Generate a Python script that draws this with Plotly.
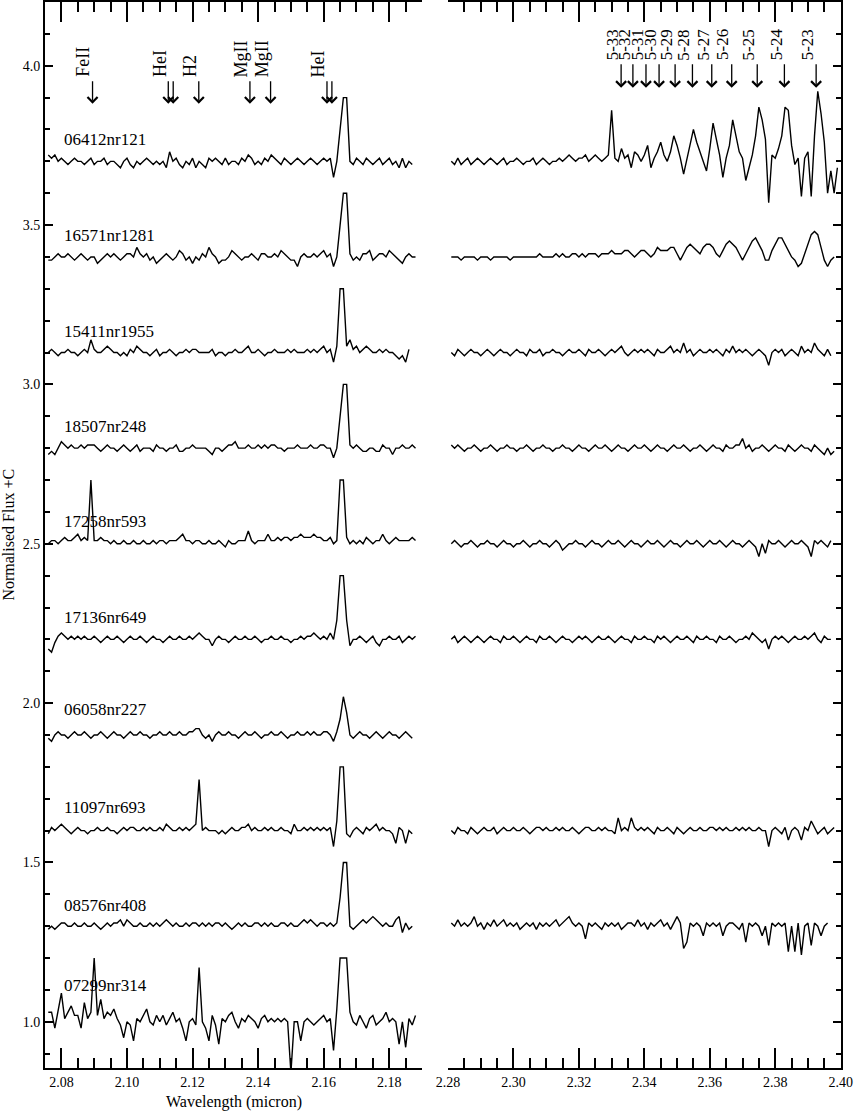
import plotly.graph_objects as go

# ---------------- data ----------------
# wavelength sampling (micron) of the digitised spectra
left_start = 2.076
right_start = 2.281
wl_step = 0.001

spectrum_names = ["06412nr121", "16571nr1281", "15411nr1955", "18507nr248", "17258nr593",
                  "17136nr649", "06058nr227", "11097nr693", "08576nr408", "07299nr314"]
offsets_C = [2.7, 2.4, 2.1, 1.8, 1.5, 1.2, 0.9, 0.6, 0.3, 0.0]
label_dy = [0.068, 0.066, 0.067, 0.069, 0.071, 0.068, 0.08, 0.072, 0.066, 0.115]

# flux deviations from 1 (in %), K band blue part
s06412_left = [2, 1, 2, 0, 1, 0, -1, 0, 1, 0, 0, -1, 0, 1, -1, 0, 0, 1, -1, 0,
               0, -1, -2, 0, 1, -1, -2, 0, -1, 0, 1, 0, -1, 0, -1, 0, -2, 3, 0, 1,
               -1, -2, 0, -1, 1, -2, 0, -1, -2, 1, 0, 1, 0, -1, 1, -1, 0, 0, -1, 1,
               0, 2, 1, -1, 0, -1, 1, 0, 2, 1, 0, -1, 1, 0, -1, 0, 1, 0, -1, 0,
               1, 0, -1, 0, 1, 0, 1, -5, 0, 10, 20, 20, 0, -1, 1, 0, -1, 1, 0, -1,
               0, 1, -1, 0, 1, -1, 0, -2, 1, -2, 0, -1]
s16571_left = [-1, -1, 0, 1, 0, 0, 1, 0, -1, 0, 1, 0, -1, 0, 0, -2, -1, 0, 1, 0,
               1, 0, -1, 0, 1, 1, 0, 3, 1, 0, 1, -1, 0, -2, -1, 0, 1, 0, -1, 0,
               2, 1, -1, 0, -2, 0, -1, 1, 0, 3, 1, 0, -2, -1, -1, 0, 2, 1, 0, -1,
               0, 0, 1, 0, -1, 1, 1, 0, 0, 1, 0, 2, 1, 0, -1, -1, -3, 0, 1, 0,
               0, 1, 0, 1, 2, 0, 1, -3, 0, 10, 20, 20, 1, -1, 0, -1, 1, 1, 2, -1,
               0, 1, 1, 0, 2, 1, 0, -1, -2, 0, 1, 0, 0]
s15411_left = [0, 1, 0, -1, 0, 0, 1, 0, 0, -1, 0, 1, 0, 4, 1, 0, 0, 1, 2, 1,
               0, 0, -1, 0, -1, 1, 0, 2, 1, 0, 0, -1, 0, 1, -1, 0, 0, 1, 0, -1,
               0, 0, 1, 0, 1, 1, 0, 0, 0, 0, 1, -1, 0, 0, -1, 0, 0, 1, 0, 0,
               1, 2, 0, 0, 1, 0, -1, 0, 0, 1, 0, 0, 0, 1, 0, 1, 0, 0, 0, 1,
               0, 1, 0, 1, 2, 0, 1, -3, 2, 20, 20, 2, 4, 1, 2, 0, 1, 2, 1, 0,
               0, 1, 0, 1, 0, 0, -1, -2, -1, -3, 1]
s18507_left = [-2, -1, -2, 0, 2, 1, 0, 1, 0, 0, 1, 0, 1, 1, 1, 0, -1, 0, 1, 0,
               0, -1, 0, 1, 0, -1, 0, 1, -1, 0, 0, 0, -1, 1, 0, 0, -1, 0, 0, 1,
               -1, -1, 0, 0, 1, 0, 0, 0, 0, -1, -2, 0, 0, -1, 0, 1, 1, 2, 0, 0,
               0, 1, 0, 0, 1, 0, 1, 0, 1, 1, 0, 0, -1, 0, 0, 0, 1, 0, 0, 0,
               1, 0, 0, 1, 1, 0, 0, -3, 0, 10, 20, 20, 1, 0, 1, 0, -1, -1, 0, 0,
               -1, -1, 1, 0, 0, -2, 0, 0, 1, 0, 0, 1, 0]
s17258_left = [0, 1, 1, 0, 1, 2, 1, 1, 2, 3, 1, 2, 1, 20, 1, 1, 2, 1, 1, 0,
               1, 0, 0, 1, 0, 0, 1, 0, 0, 1, 0, 0, 1, 0, 1, 1, 0, 1, 1, 1,
               2, 3, 1, 1, 0, 1, 1, 0, 0, 1, 0, 0, 1, 0, -1, 1, 0, 0, 1, 1,
               1, 4, 1, 0, 1, 1, 1, 3, 1, 1, 2, 1, 2, 2, 1, 2, 2, 3, 2, 2,
               2, 3, 2, 2, 1, 1, 2, 0, 1, 20, 20, 2, 0, 1, 0, 1, 0, 2, 1, 0,
               1, 1, 3, 1, 0, 1, 2, 1, 1, 1, 1, 2, 1]
s17136_left = [-3, -4, -1, 1, 2, 1, 0, 1, 0, 1, 0, 1, 0, 0, 1, 0, -1, 0, 1, 0,
               0, 1, 0, -1, 0, 1, 0, 0, 1, 0, -1, 0, 1, 0, 0, -1, 0, 1, 0, 0,
               1, 0, 0, 1, 0, 1, 2, 1, 0, 0, -2, 0, 1, 0, 0, -1, 0, 1, 0, 0,
               1, 0, 0, 1, 0, -1, 0, 0, 1, 0, 0, 1, 0, 0, -1, 0, 0, 1, 0, 1,
               1, 2, 1, 0, 1, 0, 2, 0, 6, 20, 20, 6, -2, 0, 0, 1, 0, -1, 0, 1,
               -1, -2, 0, 0, 1, 0, 0, 1, -1, 0, 1, 0, 1]
s06058_left = [-1, -2, 0, 1, 0, 0, -1, 0, 1, 0, 0, 1, 0, -1, 0, 0, 1, 0, -1, 0,
               1, 0, 0, -1, 0, 1, 0, 0, 1, 0, 0, -1, 0, 0, 1, 0, 0, 1, 0, 0,
               1, 0, 0, 1, 1, 2, 2, 0, -1, 0, -2, 0, 1, 0, 0, 1, 0, 0, -1, 0,
               1, 0, 0, 1, 0, -1, 0, 0, 1, 0, 0, 1, 0, -1, 0, 0, 1, 0, 0, 1,
               0, 1, 0, 0, 1, 1, 0, -2, 1, 5, 12, 7, 0, -1, 0, 1, 0, 0, -1, 0,
               1, 0, -1, 0, 1, 0, 0, -1, 0, 1, 0, -1]
s11097_left = [-1, 1, 0, 1, 2, 1, 0, -1, 0, 1, 0, 0, -1, 0, 0, 1, 0, 0, 1, 0,
               0, -1, 0, 1, 0, 1, 1, 0, 0, 1, 0, 1, 0, 0, 1, 0, 2, 1, 0, 0,
               1, 0, 1, 0, 1, 2, 16, 0, 1, 0, 0, 0, -1, 0, -1, 0, 1, 0, 0, 1,
               1, 2, 0, 1, 0, 0, 1, 0, 1, 0, 0, 1, 0, 0, -1, 2, 0, 0, 1, 0,
               1, 0, 1, 0, 1, 0, 1, -5, 3, 20, 20, -1, -2, 0, 1, 0, -1, 1, 0, 1,
               2, 0, 1, 0, 0, -1, -4, 1, 0, -4, 0, -1]
s08576_left = [-1, 0, -1, 0, 1, 1, 0, 0, 1, 0, 0, 1, 0, 0, 1, 0, -1, 0, 1, 0,
               1, 1, 2, 0, 2, 1, 0, 0, 1, 0, 0, 1, 0, 1, 0, 1, 2, 1, 0, 1,
               0, 0, 1, 0, 1, 1, 0, 1, 0, 1, 0, 1, 1, 0, 1, 0, -1, 0, 1, 0,
               1, 0, 0, 1, 1, 0, 1, 0, 1, 0, 0, 1, 1, 0, 1, 0, 0, 1, 2, 1,
               2, 1, 0, 1, 1, 0, 1, 0, 1, 9, 20, 20, 0, -1, 0, 1, 2, 1, 2, 3,
               2, 1, 0, 1, 0, 0, 2, 3, -2, 1, -1, 0]
s07299_left = [3, 3, -2, 4, 9, 1, 3, 5, 2, 2, -2, 6, 1, 3, 20, 2, 7, 1, 3, 2,
               4, 1, -1, -5, 0, -1, -6, 1, 0, 2, 4, 0, -1, 2, 0, 2, -1, 1, 3, 0,
               1, -2, -6, 0, 1, -1, 17, 0, -2, -6, 2, -1, -7, 1, 0, 2, 3, 0, -2, 1,
               0, 2, 1, 0, -2, 1, 2, 0, 1, 0, 1, 0, 1, 0, -16, 0, 0, -6, 0, 1,
               0, -1, 0, 1, 2, 0, 1, -9, 4, 20, 20, 20, 3, 0, -1, 2, 0, -2, 1, 2,
               -1, 0, 1, 3, 0, 1, 0, -7, 0, -8, 1, -1, 2]

# flux deviations from 1 (in %), K band red part (CO / Pfund region)
s06412_right = [0, -1, 1, -1, 0, 1, -1, 0, 1, 0, -1, 0, 1, 0, -1, 0, 1, -1, 0, 0,
                1, 0, -1, 0, 0, 1, -1, 0, 1, 0, -1, 0, 0, 1, 0, 1, 2, 1, 0, 1,
                1, 2, 0, 1, 2, 1, 0, 1, 2, 16, 1, 0, 4, 1, 2, -2, 3, 2, 0, 2,
                5, -2, 1, 3, 6, 2, 0, 3, 8, 5, 1, -4, 1, 5, 10, 6, 3, 0, -3, 4,
                12, 7, 2, -5, 1, 5, 13, 8, 3, 1, -6, -2, 2, 8, 17, 13, 7, -13, 2, 1,
                4, 8, 17, 16, 5, -1, 1, -11, 1, 3, -11, 8, 22, 15, 6, -10, -3, -10, -2]
s16571_right = [0, 0, 0, -1, 0, 0, 0, 0, -1, 0, 0, 0, -1, 0, 0, 0, 0, 0, -1, 0,
                0, 0, 0, 0, 0, 0, 0, 1, 0, 0, 0, 0, 1, 0, 1, 0, 0, 1, 1, 0,
                1, 0, 1, 1, 1, 0, 1, 1, 1, 2, 1, 1, 1, 2, 2, 1, 0, 1, 2, 2,
                1, 0, 1, 3, 2, 2, 2, 3, 3, 1, -1, 1, 3, 4, 3, 2, 1, 3, 4, 4,
                3, 1, 0, 2, 4, 5, 4, 3, 1, -1, 1, 3, 5, 6, 4, 2, -1, -1, 2, 4,
                6, 6, 4, 2, 0, -1, -3, -2, 1, 4, 7, 8, 7, 3, -1, -3, -1, 0]
s15411_right = [0, -1, 1, 0, -1, 0, 1, 0, 0, -1, 0, 1, 0, -1, 0, 1, 0, 0, -1, 0,
                1, 0, 0, -1, 1, 0, 0, 1, -1, 0, 0, 1, 0, 0, -1, 0, 1, 0, 0, 1,
                0, -1, 1, 0, 0, 1, 0, -1, 0, 1, 0, 1, 2, 0, -1, 0, 1, 0, 1, 0,
                1, 0, -1, 1, 0, 0, 1, 2, 0, 1, 0, 3, 0, 1, -1, 0, 1, 0, 0, 1,
                0, 1, 0, -1, 1, 0, 2, 0, 1, 0, 1, 0, -1, 0, 1, 0, -1, -4, 0, 1,
                0, 1, -1, 0, 1, 0, -1, 2, 0, 1, 0, 3, 1, 0, -1, 1, -1]
s18507_right = [1, 0, 1, 0, -1, 0, 0, 1, 0, -1, 0, 0, 1, 0, -1, 0, 0, 1, 0, 0,
                -1, 0, 0, 1, 0, -1, 0, 0, 1, 0, 0, -1, 0, 0, 1, 0, 0, -1, 0, 1,
                0, 0, -1, 0, 1, 0, 0, 1, 0, -1, 0, 1, 0, 0, -1, 0, 1, 0, 0, 1,
                0, -1, 0, 1, 0, 0, -1, 0, 1, 0, 0, 1, 0, -1, 0, 0, 1, 0, -1, 0,
                1, 0, 0, -1, 1, 0, 0, 1, 1, 3, 0, 1, -1, 0, 0, 1, 0, -1, 0, 1,
                0, 0, -1, 1, 0, -1, 0, 1, 0, 0, -1, 1, 0, -1, -2, 0, -2, -1]
s17258_right = [0, 1, 0, -1, 0, 0, 1, 0, -1, 0, 0, 1, 0, 0, -1, 0, 1, 0, 0, -1,
                0, 0, 1, 0, -1, 0, 0, 1, 0, 0, -1, 0, 1, 0, -2, -1, 0, 0, 1, 0,
                0, -1, 0, 1, 0, 0, -1, 0, 1, 0, 0, 1, 0, -1, 0, 1, 0, 0, -1, 0,
                1, 0, 0, 1, 0, -1, 0, 1, 0, 0, -1, 0, 1, 0, 0, 1, 0, -1, 0, 1,
                0, 0, 1, 0, -1, 0, 1, 0, 0, -1, 0, 1, 0, -1, -4, 0, -3, 1, 0, 0,
                1, 0, -1, 0, 1, 0, 0, 1, 0, -1, -4, 1, 0, 1, 0, -1, 1]
s17136_right = [0, 1, -1, 0, 1, 0, -1, 0, 1, 0, -1, 0, 1, 0, 0, -1, 1, 0, 0, 1,
                0, -1, 0, 1, 0, 0, -1, 1, 0, 0, 1, 0, -1, 0, 1, 0, 0, -1, 0, 1,
                0, 1, 0, -1, 0, 1, 0, 0, 1, 0, -1, 0, 1, 0, 0, -1, 1, 0, 0, 1,
                0, 0, -1, 1, 0, 1, 0, -1, 0, 1, 0, 0, 1, 0, -1, 1, 0, 0, 1, 0,
                0, -1, 1, 0, 0, 1, 0, -1, 0, 0, 1, 0, 2, 1, 0, -1, 0, -3, 0, 1,
                0, 1, 0, -1, 0, 1, 0, 0, 1, 0, 1, 2, 0, -1, 1, 0, 0]
s11097_right = [0, -1, 1, 0, 0, -1, 1, 0, -1, 0, 1, 0, 0, 1, -1, 0, 1, 0, 0, 1,
                0, 0, 1, 0, -1, 0, 1, 1, 0, 1, 0, 0, 1, 0, 1, 0, 0, 1, 0, -1,
                0, 1, 1, 0, 0, 1, 0, 1, 0, 0, -1, 4, 0, 1, 0, 4, 1, 0, 1, 0,
                1, 0, -1, 1, 0, 0, 1, 0, -1, 1, 0, -1, 0, 1, 0, 0, 1, 0, 0, 1,
                1, 0, 1, 0, 1, 0, 0, 1, 0, 1, 0, 1, 0, 0, 1, 0, 0, -5, 0, 1,
                0, -1, 1, -3, 0, 1, 0, -3, 1, 0, 3, 1, -1, 0, 1, -1, 0, 1]
s08576_right = [1, 0, 2, 0, 1, 0, 1, 3, 0, 1, -1, 1, 0, 2, 0, 1, 2, 0, 1, 0,
                1, -1, 0, 1, 0, 1, -1, 1, 0, 1, 0, 1, 2, 0, 1, 2, 3, 1, 0, 1,
                0, -4, 1, 0, 1, 0, -1, 1, 0, 1, 0, 1, -1, 0, 1, 1, 0, 2, 0, 1,
                -1, 1, 0, 1, 2, 0, 1, -1, 1, 3, 1, -7, -5, 1, 0, 1, 0, -3, 1, 0,
                1, 0, 1, -3, 0, 1, 1, 0, -1, 1, -5, 1, 0, 1, 0, -3, 0, -6, 1, 0,
                1, 0, 1, -8, 0, -8, 1, -9, 0, 1, -6, 1, 0, -3, 0, 1]

left_spectra = [s06412_left, s16571_left, s15411_left, s18507_left, s17258_left,
                s17136_left, s06058_left, s11097_left, s08576_left, s07299_left]
right_spectra = [s06412_right, s16571_right, s15411_right, s18507_right, s17258_right,
                 s17136_right, None, s11097_right, s08576_right, None]

# line identifications (micron)
left_arrow_wl = [2.0895, 2.1126, 2.1141, 2.1219, 2.1375, 2.1438, 2.1610, 2.1625]
left_label_wl = [2.0895, 2.1126, 2.1219, 2.1375, 2.1438, 2.1610]
left_label_txt = ["FeII", "HeI", "H2", "MgII", "MgII", "HeI"]
right_arrow_wl = [2.3329, 2.3365, 2.3405, 2.3445, 2.3494, 2.3547, 2.3606, 2.3667,
                  2.3745, 2.3828, 2.3925]
right_label_txt = ["5-33", "5-32", "5-31", "5-30", "5-29", "5-28", "5-27", "5-26",
                   "5-25", "5-24", "5-23"]

# ---------------- figure ----------------
FONT = "Liberation Serif, Times New Roman, DejaVu Serif, serif"
fig = go.Figure()


def grid(start, n):
    return [round(start + wl_step * i, 4) for i in range(n)]


for name, C, lv, rv in zip(spectrum_names, offsets_C, left_spectra, right_spectra):
    fig.add_trace(go.Scatter(x=grid(left_start, len(lv)), y=[1 + C + v / 100 for v in lv],
                             mode="lines", line=dict(color="black", width=1.4),
                             xaxis="x", yaxis="y", showlegend=False, name=name))
    if rv is not None:
        fig.add_trace(go.Scatter(x=grid(right_start, len(rv)), y=[1 + C + v / 100 for v in rv],
                                 mode="lines", line=dict(color="black", width=1.4),
                                 xaxis="x2", yaxis="y2", showlegend=False, name=name))

ann = []
for name, C, dy in zip(spectrum_names, offsets_C, label_dy):
    ann.append(dict(x=2.0803, y=1 + C + dy, xref="x", yref="y", text=name, showarrow=False,
                    xanchor="left", yanchor="middle", font=dict(family=FONT, size=17, color="black")))

for w in left_arrow_wl:
    ann.append(dict(x=w, y=3.881, ax=w, ay=3.956, xref="x", yref="y", axref="x", ayref="y",
                    text="", showarrow=True, arrowhead=4, arrowsize=1.5, arrowwidth=1.3,
                    arrowcolor="black"))
for w, t in zip(left_label_wl, left_label_txt):
    ann.append(dict(x=w, y=3.958, xref="x", yref="y", text=t, textangle=-90, showarrow=False,
                    xanchor="right", yanchor="bottom", xshift=3,
                    font=dict(family=FONT, size=18, color="black")))
for w, t in zip(right_arrow_wl, right_label_txt):
    ann.append(dict(x=w, y=3.931, ax=w, ay=4.009, xref="x2", yref="y2", axref="x2", ayref="y2",
                    text="", showarrow=True, arrowhead=4, arrowsize=1.5, arrowwidth=1.3,
                    arrowcolor="black"))
    ann.append(dict(x=w, y=4.011, xref="x2", yref="y2", text=t, textangle=-90, showarrow=False,
                    xanchor="right", yanchor="bottom", xshift=3,
                    font=dict(family=FONT, size=17, color="black")))

ann.append(dict(x=-0.047, y=0.5, xref="paper", yref="paper", text="Normalised Flux +C",
                textangle=-90, showarrow=False, xanchor="center", yanchor="middle",
                font=dict(family=FONT, size=16, color="black")))
ann.append(dict(x=0.2369, y=-0.032, xref="paper", yref="paper", text="Wavelength (micron)",
                showarrow=False, xanchor="center", yanchor="middle",
                font=dict(family=FONT, size=16, color="black")))

xcommon = dict(showgrid=False, zeroline=False, showline=True, linecolor="black", linewidth=2,
               mirror="ticks", ticks="inside", ticklen=20, tickwidth=1.5, tickcolor="black",
               tickformat=".2f", dtick=0.02,
               minor=dict(dtick=0.005, ticks="inside", ticklen=10, tickwidth=1.5,
                          tickcolor="black", showgrid=False),
               tickfont=dict(family=FONT, size=14, color="black"))

fig.update_layout(
    width=855, height=1112,
    margin=dict(l=45, r=14, t=2, b=44, autoexpand=False),
    paper_bgcolor="white", plot_bgcolor="white",
    font=dict(family=FONT, color="black"),
    xaxis=dict(domain=[0, 0.4737], range=[2.075, 2.19], tick0=2.08, anchor="y", **xcommon),
    xaxis2=dict(domain=[0.5059, 1], range=[2.2799, 2.4001], tick0=2.28, anchor="y2", **xcommon),
    yaxis=dict(domain=[0, 1], range=[0.855, 4.20], anchor="x", showgrid=False, zeroline=False,
               showline=True, linecolor="black", linewidth=2, ticks="inside", ticklen=8,
               tickwidth=1.5, tickcolor="black", dtick=0.5, tick0=1.0, tickformat=".1f",
               minor=dict(dtick=0.1, ticks="inside", ticklen=5, tickwidth=1.5,
                          tickcolor="black", showgrid=False),
               tickfont=dict(family=FONT, size=14, color="black")),
    yaxis2=dict(domain=[0, 1], matches="y", anchor="x2", side="right", showgrid=False,
                zeroline=False, showline=True, linecolor="black", linewidth=2, ticks="inside",
                ticklen=8, tickwidth=1.5, tickcolor="black", dtick=0.5, tick0=1.0,
                showticklabels=False,
                minor=dict(dtick=0.1, ticks="inside", ticklen=5, tickwidth=1.5,
                           tickcolor="black", showgrid=False)),
    annotations=ann,
)

fig.write_html("out.html", config={"displayModeBar": False},
               post_script="document.body.style.margin='0';document.body.style.overflow='hidden';")
